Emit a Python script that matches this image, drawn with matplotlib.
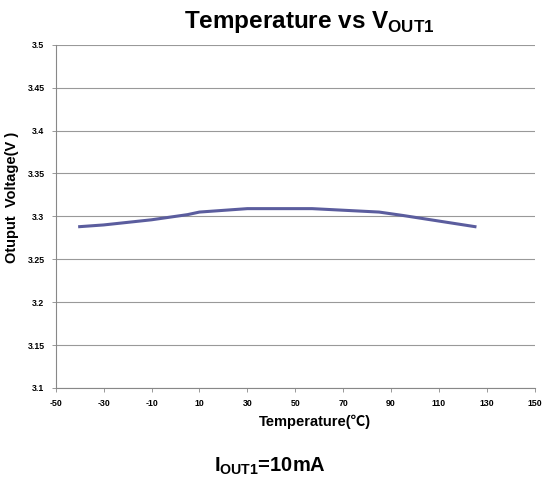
import matplotlib
matplotlib.use("Agg")
import matplotlib.pyplot as plt

# temperature (C) and output voltage (V)
temps = [-40, -30, -10, 5, 10, 30, 57, 85, 95, 125]
vout = [3.288, 3.290, 3.296, 3.302, 3.305, 3.309, 3.309, 3.305, 3.301, 3.288]

xticks = [-50, -30, -10, 10, 30, 50, 70, 90, 110, 130, 150]
yticks = [3.1, 3.15, 3.2, 3.25, 3.3, 3.35, 3.4, 3.45, 3.5]
ytick_labels = ["3.1", "3.15", "3.2", "3.25", "3.3", "3.35", "3.4", "3.45", "3.5"]

plt.rcParams['font.family'] = ['Liberation Sans', 'Noto Sans CJK SC', 'DejaVu Sans']
plt.rcParams['mathtext.fontset'] = 'custom'
plt.rcParams['mathtext.rm'] = 'Liberation Sans'
plt.rcParams['mathtext.bf'] = 'Liberation Sans:bold'

fig = plt.figure(figsize=(5.42, 4.92), dpi=100)
ax = fig.add_axes([0.1028, 0.2114, 0.884, 0.6977])

ax.plot(temps, vout, color="#5B5D9E", linewidth=2.2)

ax.set_xlim(-50, 150)
ax.set_ylim(3.1, 3.5)
ax.set_xticks(xticks)
ax.set_xticklabels([str(t) for t in xticks], fontsize=6.3, fontweight="bold")
ax.set_yticks(yticks)
ax.set_yticklabels(ytick_labels, fontsize=6.3, fontweight="bold")
ax.tick_params(length=3, width=0.6, color="#888888", pad=5)
ax.grid(axis="y", color="#999999", linewidth=0.8)
ax.set_axisbelow(True)

for s in ["top", "right"]:
    ax.spines[s].set_visible(False)
for s in ["left", "bottom"]:
    ax.spines[s].set_color("#888888")
    ax.spines[s].set_linewidth(0.8)

fig.text(0.022, 0.598, "Otuput  Voltage(V )", rotation=90, ha="center", va="center",
         fontsize=10.5, fontweight="bold")
fig.text(0.581, 0.142, "Temperature(℃)", ha="center", va="center",
         fontsize=10.5, fontweight="bold")

fig.text(0.57, 0.955, r"Temperature vs V$_{\mathbf{OUT1}}$", ha="center", va="center",
         fontsize=17.5, fontweight="bold")
fig.text(0.498, 0.053, r"I$_{\mathbf{OUT1}}$=10mA", ha="center", va="center",
         fontsize=14.5, fontweight="bold")

fig.savefig("out.png", dpi=100)
